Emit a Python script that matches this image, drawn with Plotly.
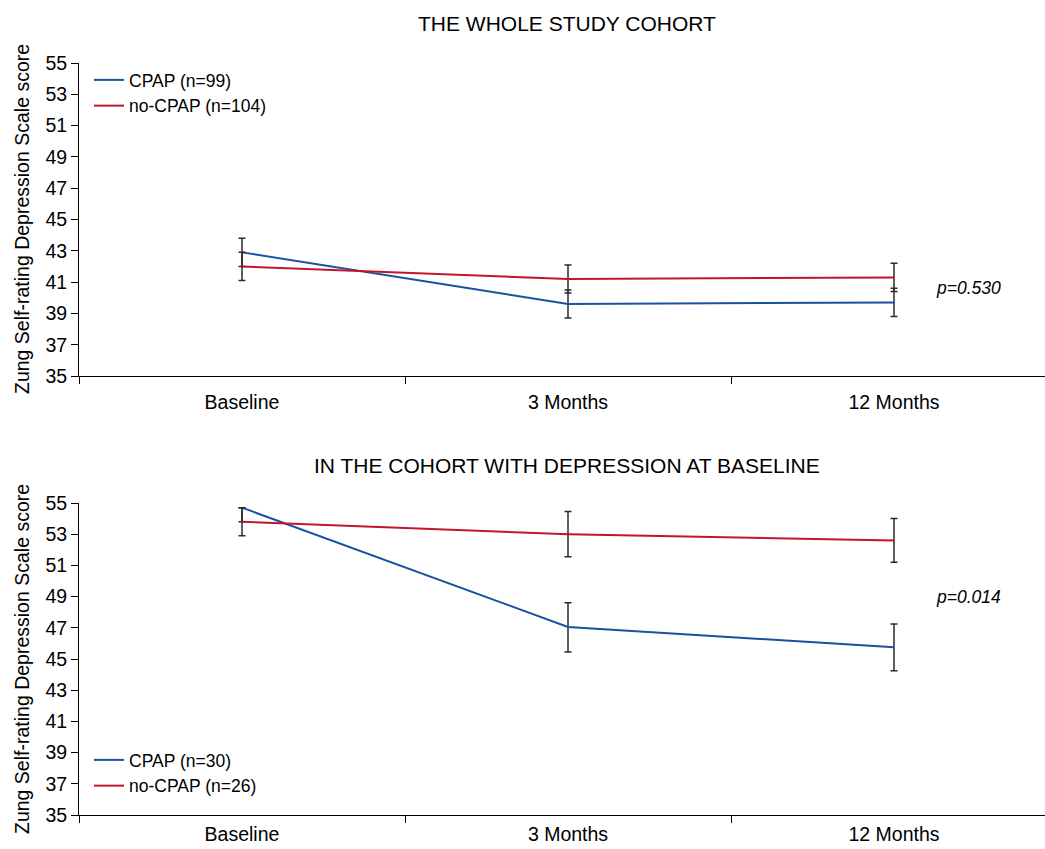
import plotly.graph_objects as go

# ---- data ----
categories = ["Baseline", "3 Months", "12 Months"]

# whole study cohort
top_cpap = [42.9, 39.6, 39.7]
top_cpap_err = [0.9, 0.9, 0.9]
top_nocpap = [42.0, 41.2, 41.3]
top_nocpap_err = [0.9, 0.9, 0.9]
top_names = ["CPAP (n=99)", "no-CPAP (n=104)"]
top_p = "p=0.530"

# cohort with depression at baseline
bot_cpap = [54.7, 47.05, 45.75]
bot_cpap_err_plus = [0.0, 1.55, 1.5]
bot_cpap_err_minus = [0.9, 1.6, 1.5]
bot_nocpap = [53.8, 53.0, 52.6]
bot_nocpap_err = [0.9, 1.45, 1.4]
bot_names = ["CPAP (n=30)", "no-CPAP (n=26)"]
bot_p = "p=0.014"

titles = ["THE WHOLE STUDY COHORT", "IN THE COHORT WITH DEPRESSION AT BASELINE"]
ytitle = "Zung Self-rating Depression Scale score"
yticks = [35, 37, 39, 41, 43, 45, 47, 49, 51, 53, 55]

BLUE = "#1a51a0"
RED = "#c3142d"
ERR = "#2b2b2b"
FONT = "Liberation Sans, Arial, sans-serif"

W, H = 1045, 849
L = 79

def py(p):
    return (H - p) / H

def px(p):
    return (p - L) / (W - L)

fig = go.Figure()

def err(arr, minus=None):
    d = dict(type="data", array=arr, visible=True, color=ERR, thickness=1.5, width=3.5)
    if minus is not None:
        d["symmetric"] = False
        d["arrayminus"] = minus
    return d

fig.add_trace(go.Scatter(x=categories, y=top_cpap, name=top_names[0], mode="lines",
                         line=dict(color=BLUE, width=2), error_y=err(top_cpap_err),
                         xaxis="x", yaxis="y", legend="legend"))
fig.add_trace(go.Scatter(x=categories, y=top_nocpap, name=top_names[1], mode="lines",
                         line=dict(color=RED, width=2), error_y=err(top_nocpap_err),
                         xaxis="x", yaxis="y", legend="legend"))
fig.add_trace(go.Scatter(x=categories, y=bot_cpap, name=bot_names[0], mode="lines",
                         line=dict(color=BLUE, width=2),
                         error_y=err(bot_cpap_err_plus, bot_cpap_err_minus),
                         xaxis="x2", yaxis="y2", legend="legend2"))
fig.add_trace(go.Scatter(x=categories, y=bot_nocpap, name=bot_names[1], mode="lines",
                         line=dict(color=RED, width=2), error_y=err(bot_nocpap_err),
                         xaxis="x2", yaxis="y2", legend="legend2"))

xrange = [-0.5, -0.5 + (W - L) / 326.0]
xcommon = dict(type="category", range=xrange, showline=True, linecolor="black", linewidth=1,
               ticks="outside", tickson="boundaries", ticklen=7, tickcolor="black",
               showgrid=False, zeroline=False, automargin=False,
               tickfont=dict(size=19.5, color="black", family=FONT))
ycommon = dict(range=[35, 55], tickvals=yticks, showline=True, linecolor="black", linewidth=1,
               ticks="outside", ticklen=7, tickcolor="black", showgrid=False, zeroline=False,
               automargin=False, tickfont=dict(size=19.5, color="black", family=FONT))

top_dom = [py(376), py(63)]
bot_dom = [py(815), py(503)]

legfont = dict(size=17.5, family=FONT, color="black")
fig.update_layout(
    width=W, height=H,
    margin=dict(l=L, r=0, t=0, b=0),
    paper_bgcolor="white", plot_bgcolor="white",
    font=dict(family=FONT, color="black"),
    xaxis=dict(domain=[0, 1], anchor="y", ticklabelstandoff=9, **xcommon),
    yaxis=dict(domain=top_dom, anchor="x", **ycommon),
    xaxis2=dict(domain=[0, 1], anchor="y2", ticklabelstandoff=2, **xcommon),
    yaxis2=dict(domain=bot_dom, anchor="x2", **ycommon),
    legend=dict(x=px(89), y=py(62), xanchor="left", yanchor="top",
                bgcolor="rgba(0,0,0,0)", font=legfont, tracegroupgap=0),
    legend2=dict(x=px(89), y=py(742), xanchor="left", yanchor="top",
                 bgcolor="rgba(0,0,0,0)", font=legfont, tracegroupgap=0),
    showlegend=True,
)

def ann(text, x, y, size, angle=0, italic=False):
    return dict(text=("<i>" + text + "</i>") if italic else text,
                x=px(x), y=py(y), xref="paper", yref="paper",
                xanchor="center", yanchor="middle", textangle=angle,
                showarrow=False, font=dict(size=size, family=FONT, color="black"))

annots = [
    ann(titles[0], 567, 24, 21),
    ann(titles[1], 567, 465, 21),
    ann(ytitle, 22, 219, 19.5, angle=-90),
    ann(ytitle, 22, 659, 19.5, angle=-90),
    ann(top_p, 968, 288, 17.5, italic=True),
    ann(bot_p, 968, 597, 17.5, italic=True),
]
fig.update_layout(annotations=annots)

fig.write_html("out.html", config={"displayModeBar": False},
               post_script="document.body.style.margin='0';")
